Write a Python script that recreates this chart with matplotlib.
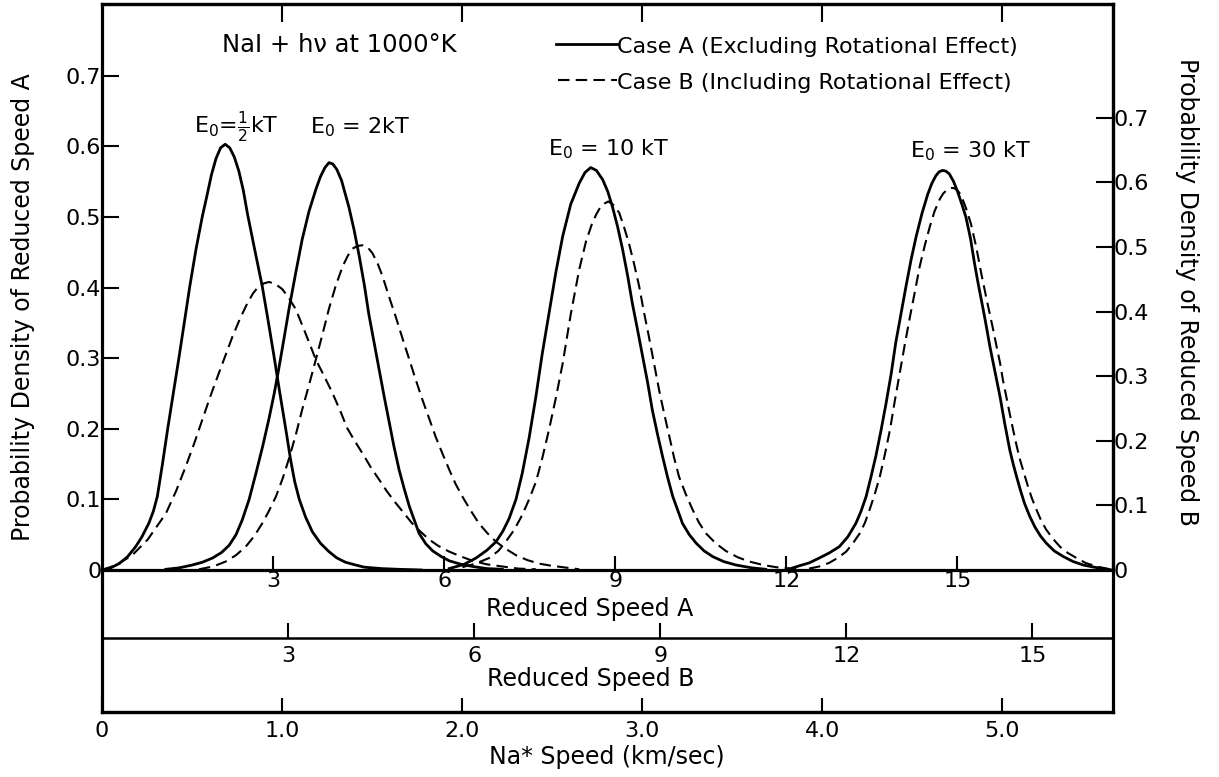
import matplotlib
matplotlib.use('Agg')
import matplotlib.pyplot as plt
from matplotlib.lines import Line2D

plt.rcParams['font.family'] = 'DejaVu Sans'
plt.rcParams['mathtext.fontset'] = 'dejavusans'

A_TO_B = 57.0 / 62.0      # reduced speed B per unit of reduced speed A
A_TO_KMS = 57.0 / 180.0   # km/sec per unit of reduced speed A
DENS_B = 1.093            # right-axis density per unit of left-axis density

# ---- data: x = reduced speed A, y = probability density (left axis) ----
# E0 = 1/2 kT
half_A_x = [0, 0.15, 0.30, 0.45, 0.59, 0.70, 0.82, 0.90, 0.97, 1.06, 1.15, 1.25, 1.35, 1.45, 1.54, 1.65,
            1.76, 1.84, 1.92, 2.00, 2.08, 2.16, 2.24, 2.32, 2.40, 2.48, 2.55, 2.68, 2.81, 2.92, 3.02,
            3.12, 3.22, 3.31, 3.38, 3.46, 3.57, 3.69, 3.83, 3.98, 4.12, 4.27, 4.45, 4.60, 4.90, 5.20, 5.60]
half_A_y = [0, 0.003, 0.009, 0.019, 0.033, 0.047, 0.066, 0.083, 0.104, 0.150, 0.199, 0.250, 0.301, 0.354, 0.402, 0.455,
            0.501, 0.530, 0.560, 0.583, 0.598, 0.603, 0.598, 0.585, 0.565, 0.537, 0.505, 0.453, 0.402, 0.350, 0.301,
            0.250, 0.201, 0.155, 0.125, 0.100, 0.075, 0.054, 0.038, 0.026, 0.017, 0.011, 0.007, 0.004, 0.002, 0.001, 0]
half_B_x = [0, 0.25, 0.53, 0.80, 1.12, 1.30, 1.47, 1.62, 1.76, 1.90, 2.05, 2.17, 2.29, 2.42, 2.55, 2.65,
            2.75, 2.84, 2.93, 3.04, 3.16, 3.28, 3.40, 3.57, 3.75, 3.90, 4.04, 4.18, 4.30, 4.43, 4.57, 4.71,
            4.86, 5.00, 5.15, 5.30, 5.44, 5.59, 5.74, 5.90, 6.09, 6.30, 6.50, 6.75, 7.02, 7.30, 7.61]
half_B_y = [0, 0.007, 0.021, 0.043, 0.080, 0.112, 0.147, 0.180, 0.213, 0.246, 0.279, 0.305, 0.331, 0.356, 0.378, 0.392,
            0.402, 0.406, 0.408, 0.405, 0.398, 0.385, 0.369, 0.335, 0.298, 0.274, 0.251, 0.225, 0.201, 0.183, 0.165, 0.146,
            0.128, 0.111, 0.095, 0.080, 0.066, 0.054, 0.043, 0.034, 0.026, 0.019, 0.013, 0.008, 0.005, 0.002, 0.001]

# E0 = 2 kT
two_A_x = [1.12, 1.35, 1.58, 1.76, 1.94, 2.10, 2.23, 2.35, 2.46, 2.58, 2.70, 2.82, 2.93, 3.02, 3.10, 3.19, 3.28,
           3.40, 3.51, 3.63, 3.75, 3.83, 3.91, 3.98, 4.05, 4.12, 4.20, 4.33, 4.42, 4.51, 4.60, 4.68, 4.77,
           4.86, 4.95, 5.04, 5.12, 5.21, 5.30, 5.39, 5.48, 5.56, 5.68, 5.80, 5.95, 6.09, 6.30, 6.50, 6.75, 7.02]
two_A_y = [0.001, 0.003, 0.007, 0.011, 0.017, 0.025, 0.035, 0.050, 0.071, 0.100, 0.137, 0.176, 0.215, 0.250, 0.285, 0.327, 0.370,
           0.422, 0.468, 0.508, 0.539, 0.557, 0.570, 0.577, 0.575, 0.567, 0.552, 0.514, 0.482, 0.445, 0.404, 0.362, 0.323,
           0.284, 0.245, 0.208, 0.175, 0.142, 0.115, 0.090, 0.070, 0.052, 0.037, 0.027, 0.019, 0.013, 0.008, 0.005, 0.002, 0.001]
two_B_x = [1.70, 1.95, 2.17, 2.35, 2.52, 2.67, 2.81, 2.93, 3.05, 3.17, 3.28, 3.40, 3.51, 3.63, 3.75, 3.87, 3.98,
           4.10, 4.22, 4.31, 4.39, 4.48, 4.57, 4.66, 4.74, 4.83, 4.92, 5.03, 5.15, 5.27, 5.39, 5.50, 5.62,
           5.74, 5.85, 5.97, 6.09, 6.20, 6.32, 6.46, 6.61, 6.76, 6.91, 7.08, 7.26, 7.46, 7.67, 7.88, 8.08, 8.37]
two_B_y = [0.001, 0.005, 0.012, 0.021, 0.033, 0.048, 0.066, 0.084, 0.104, 0.130, 0.158, 0.192, 0.227, 0.262, 0.298, 0.335, 0.370,
           0.403, 0.430, 0.445, 0.455, 0.459, 0.460, 0.457, 0.449, 0.435, 0.416, 0.388, 0.359, 0.328, 0.298, 0.270, 0.241,
           0.214, 0.189, 0.165, 0.142, 0.122, 0.104, 0.085, 0.066, 0.052, 0.040, 0.030, 0.021, 0.014, 0.009, 0.006, 0.004, 0.001]

# E0 = 10 kT
ten_A_x = [6.09, 6.35, 6.56, 6.75, 6.91, 7.03, 7.14, 7.26, 7.37, 7.49, 7.61, 7.72, 7.84, 7.96, 8.08, 8.22, 8.37,
           8.47, 8.57, 8.67, 8.78, 8.87, 8.95, 9.04, 9.13, 9.22, 9.30, 9.39, 9.48, 9.57, 9.65, 9.74, 9.83,
           9.92, 10.01, 10.10, 10.18, 10.30, 10.42, 10.56, 10.71, 10.90, 11.12, 11.40, 11.64]
ten_A_y = [0.002, 0.008, 0.017, 0.028, 0.040, 0.055, 0.073, 0.100, 0.137, 0.187, 0.246, 0.306, 0.364, 0.422, 0.473, 0.518, 0.548,
           0.563, 0.570, 0.566, 0.553, 0.536, 0.515, 0.487, 0.454, 0.416, 0.378, 0.341, 0.303, 0.265, 0.227, 0.193, 0.161,
           0.131, 0.104, 0.084, 0.066, 0.050, 0.038, 0.027, 0.019, 0.012, 0.007, 0.003, 0.001]
ten_B_x = [6.32, 6.55, 6.79, 6.95, 7.08, 7.23, 7.37, 7.49, 7.61, 7.72, 7.84, 7.96, 8.08, 8.22, 8.37, 8.49, 8.60,
           8.67, 8.74, 8.81, 8.88, 8.97, 9.07, 9.15, 9.24, 9.33, 9.42, 9.50, 9.59, 9.68, 9.77, 9.86, 9.95,
           10.03, 10.12, 10.24, 10.36, 10.47, 10.59, 10.76, 10.94, 11.15, 11.35, 11.60, 11.82, 12.23]
ten_B_y = [0.004, 0.009, 0.017, 0.027, 0.040, 0.057, 0.078, 0.100, 0.125, 0.158, 0.199, 0.244, 0.293, 0.362, 0.426, 0.466, 0.492,
           0.504, 0.514, 0.519, 0.522, 0.517, 0.506, 0.487, 0.463, 0.434, 0.402, 0.367, 0.331, 0.293, 0.255, 0.221, 0.189,
           0.160, 0.132, 0.107, 0.085, 0.067, 0.052, 0.038, 0.027, 0.018, 0.012, 0.007, 0.004, 0.001]

# E0 = 30 kT
thirty_A_x = [12.00, 12.23, 12.40, 12.58, 12.75, 12.93, 13.08, 13.22, 13.31, 13.40, 13.48, 13.57, 13.66, 13.75,
              13.84, 13.92, 14.01, 14.10, 14.19, 14.28, 14.38, 14.48, 14.55, 14.62, 14.68, 14.74, 14.80, 14.86,
              14.93, 15.00, 15.08, 15.15, 15.23, 15.30, 15.36, 15.42, 15.47, 15.52, 15.57, 15.63, 15.69, 15.75,
              15.83, 15.92, 15.98, 16.04, 16.11, 16.18, 16.27, 16.36, 16.46, 16.56, 16.70, 16.86, 17.03, 17.21,
              17.40, 17.56, 17.70]
thirty_A_y = [0, 0.006, 0.010, 0.017, 0.024, 0.033, 0.047, 0.066, 0.083, 0.104, 0.130, 0.161, 0.197, 0.236,
              0.278, 0.322, 0.362, 0.402, 0.440, 0.473, 0.505, 0.532, 0.547, 0.558, 0.564, 0.566, 0.565, 0.561,
              0.551, 0.537, 0.518, 0.500, 0.470, 0.435, 0.408, 0.383, 0.362, 0.340, 0.317, 0.293, 0.269, 0.245,
              0.208, 0.170, 0.150, 0.132, 0.112, 0.094, 0.076, 0.061, 0.048, 0.038, 0.027, 0.019, 0.012, 0.007,
              0.004, 0.002, 0]
thirty_B_x = [12.40, 12.58, 12.75, 12.90, 13.05, 13.17, 13.29, 13.38, 13.46, 13.55, 13.64, 13.73, 13.82, 13.90,
              13.99, 14.08, 14.17, 14.26, 14.34, 14.43, 14.52, 14.60, 14.69, 14.75, 14.80, 14.85, 14.89, 14.94,
              14.98, 15.03, 15.07, 15.15, 15.24, 15.33, 15.42, 15.52, 15.63, 15.69, 15.75, 15.80, 15.86, 15.92,
              15.98, 16.04, 16.10, 16.17, 16.24, 16.31, 16.39, 16.47, 16.56, 16.68, 16.80, 16.94, 17.09, 17.25,
              17.44, 17.68]
thirty_B_y = [0.002, 0.005, 0.010, 0.017, 0.026, 0.038, 0.052, 0.067, 0.085, 0.107, 0.132, 0.164, 0.199, 0.238,
              0.279, 0.320, 0.359, 0.396, 0.430, 0.460, 0.487, 0.508, 0.525, 0.533, 0.537, 0.540, 0.541, 0.541,
              0.539, 0.535, 0.530, 0.513, 0.490, 0.458, 0.420, 0.381, 0.340, 0.316, 0.293, 0.269, 0.245, 0.221,
              0.198, 0.176, 0.156, 0.137, 0.118, 0.101, 0.085, 0.070, 0.057, 0.044, 0.033, 0.024, 0.017, 0.010,
              0.005, 0.001]

curves_A = [(half_A_x, half_A_y), (two_A_x, two_A_y), (ten_A_x, ten_A_y), (thirty_A_x, thirty_A_y)]
curves_B = [(half_B_x, half_B_y), (two_B_x, two_B_y), (ten_B_x, ten_B_y), (thirty_B_x, thirty_B_y)]

energy_labels = [r'E$_0$=$\frac{1}{2}$kT', r'E$_0$ = 2kT', r'E$_0$ = 10 kT', r'E$_0$ = 30 kT']
label_pos = [(2.35, 0.619), (4.53, 0.619), (8.89, 0.587), (15.23, 0.585)]

A_ticks = [3, 6, 9, 12, 15]
B_ticks = [3, 6, 9, 12, 15]
kms_ticks = [0, 1, 2, 3, 4, 5]
kms_labels = ['0', '1.0', '2.0', '3.0', '4.0', '5.0']
dens_ticks = [0, 0.1, 0.2, 0.3, 0.4, 0.5, 0.6, 0.7]
dens_labels = ['0', '0.1', '0.2', '0.3', '0.4', '0.5', '0.6', '0.7']

W, H = 1219, 777
def fx(x): return x / W
def fy(y): return 1 - y / H

fig = plt.figure(figsize=(12.19, 7.77), dpi=100)
axl = fig.add_axes([fx(102), fy(712), fx(1113) - fx(102), fy(570) - fy(712)])
ax = fig.add_axes([fx(102), fy(570), fx(1113) - fx(102), fy(4) - fy(570)])
axl.patch.set_visible(False)
ax.patch.set_visible(False)

SP = 2.3
for x_, y_ in curves_A:
    ax.plot(x_, y_, color='black', lw=2.0, solid_joinstyle='round')
for x_, y_ in curves_B:
    ax.plot(x_, y_, color='black', lw=1.5, dashes=(5.5, 3))

for t, (xx, yy) in zip(energy_labels, label_pos):
    ax.text(xx, yy, t, fontsize=16, ha='center', va='baseline')

ax.set_xlim(0, 17.73)
ax.set_ylim(0, 0.8017)
for s in ax.spines.values():
    s.set_linewidth(SP)
ax.set_xticks(A_ticks)
ax.set_xticklabels([str(t) for t in A_ticks])
ax.tick_params(axis='x', direction='in', length=10, width=1.5, labelsize=16, pad=1)
ax.set_yticks(dens_ticks)
ax.set_yticklabels(dens_labels)
ax.tick_params(axis='y', direction='in', length=12, width=1.5, labelsize=16, pad=0.5)

# right density axis (reduced speed B)
axr = ax.secondary_yaxis('right', functions=(lambda y: y * DENS_B, lambda y: y / DENS_B))
axr.set_yticks(dens_ticks)
axr.set_yticklabels(dens_labels)
axr.tick_params(direction='in', length=12, width=1.5, labelsize=16, pad=0.5)
axr.spines['right'].set_linewidth(SP)

# top ticks at km/sec positions
axt = ax.secondary_xaxis('top', functions=(lambda a: a * A_TO_KMS, lambda v: v / A_TO_KMS))
axt.set_xticks(kms_ticks[1:])
axt.tick_params(direction='in', length=13, width=1.5, labeltop=False)
axt.spines['top'].set_linewidth(SP)

# lower strip: reduced speed B and Na* speed
axl.set_xlim(0, 17.73)
axl.set_ylim(0, 1)
axl.set_xticks([])
axl.set_yticks([])
axl.spines['top'].set_visible(False)
for k in ['left', 'right', 'bottom']:
    axl.spines[k].set_linewidth(SP)

axb = axl.secondary_xaxis(0.521, functions=(lambda a: a * A_TO_B, lambda b: b / A_TO_B))
axb.set_alignment('bottom')
axb.set_xticks(B_ticks)
axb.set_xticklabels([str(t) for t in B_ticks])
axb.tick_params(direction='in', length=11, width=1.5, labelsize=16, pad=5.5)
axb.spines['bottom'].set_linewidth(1.8)

axv = axl.secondary_xaxis('bottom', functions=(lambda a: a * A_TO_KMS, lambda v: v / A_TO_KMS))
axv.set_xticks(kms_ticks)
axv.set_xticklabels(kms_labels)
axv.tick_params(direction='in', length=10, width=1.5, labelsize=16, pad=6.5)
axv.spines['bottom'].set_linewidth(SP)

# axis titles
fig.text(fx(590), fy(609), 'Reduced Speed A', fontsize=17, ha='center', va='center')
fig.text(fx(591), fy(679), 'Reduced Speed B', fontsize=17, ha='center', va='center')
fig.text(fx(607), fy(757), 'Na* Speed (km/sec)', fontsize=17, ha='center', va='center')
fig.text(fx(23), fy(307), 'Probability Density of Reduced Speed A', fontsize=17,
         rotation=90, ha='center', va='center')
fig.text(fx(1187), fy(292), 'Probability Density of Reduced Speed B', fontsize=17,
         rotation=270, ha='center', va='center')

# heading and key
fig.text(fx(339), fy(52), 'NaI + h\u03bd at 1000\u00b0K', fontsize=17.5, ha='center', va='baseline')
fig.add_artist(Line2D([fx(556), fx(617)], [fy(44), fy(44)], color='black', lw=2.0,
                      transform=fig.transFigure))
fig.add_artist(Line2D([fx(558), fx(617)], [fy(80), fy(80)], color='black', lw=1.5,
                      dashes=(5.5, 3), transform=fig.transFigure))
fig.text(fx(617), fy(53), 'Case A (Excluding Rotational Effect)', fontsize=16, ha='left', va='baseline')
fig.text(fx(617), fy(89), 'Case B (Including Rotational Effect)', fontsize=16, ha='left', va='baseline')

fig.savefig('out.png', dpi=100)
